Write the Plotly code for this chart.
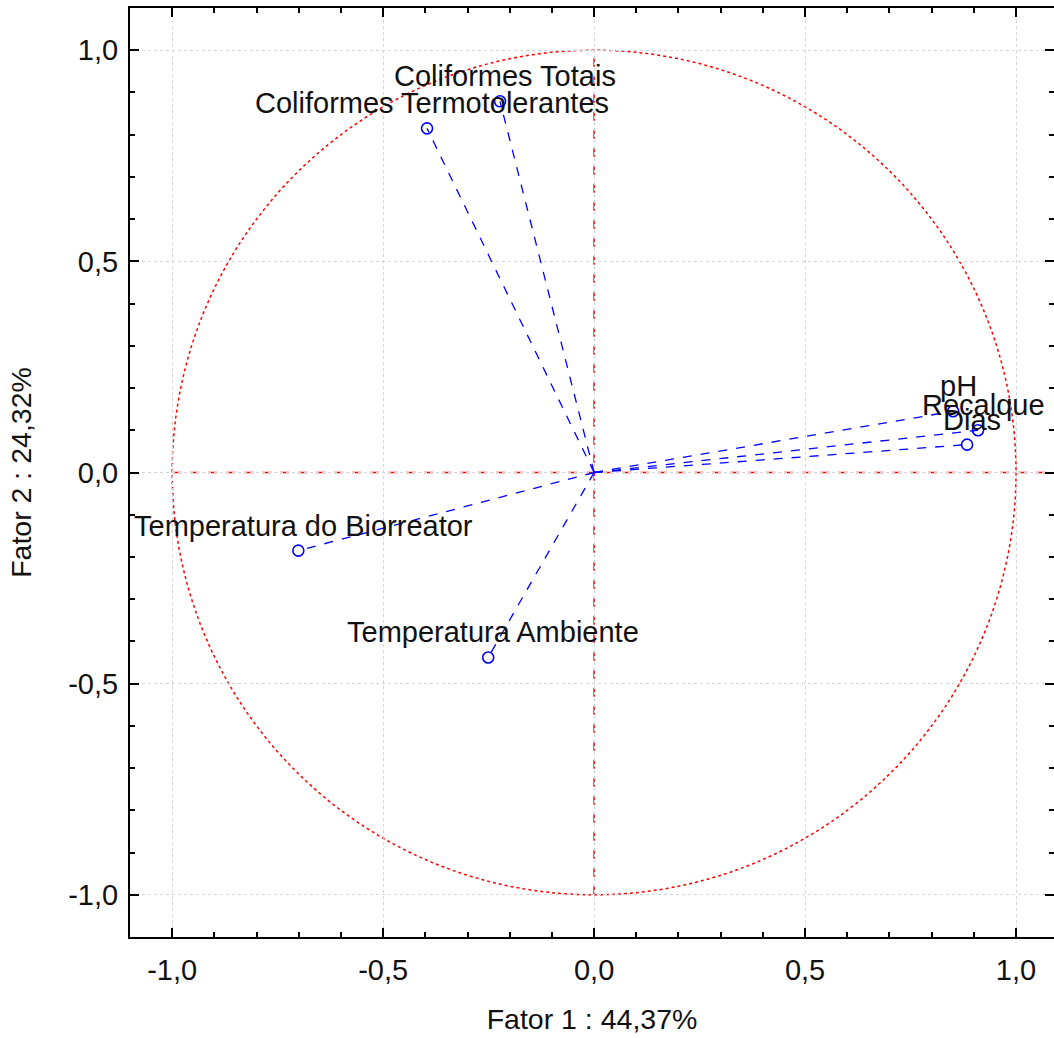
import plotly.graph_objects as go

variables = ["Coliformes Totais", "Coliformes Termotolerantes", "Temperatura do Biorreator",
             "Temperatura Ambiente", "pH", "Recalque", "Dias"]
fator1 = [-0.223, -0.396, -0.701, -0.251, 0.851, 0.910, 0.884]
fator2 = [0.879, 0.815, -0.185, -0.438, 0.145, 0.100, 0.066]
tick_vals = [-1.0, -0.5, 0.0, 0.5, 1.0]
tick_text = ["-1,0", "-0,5", "0,0", "0,5", "1,0"]

FONT = "Liberation Sans, Arial, sans-serif"
BLUE = "#0000ff"
RED = "#ff0000"
TXT = "#111111"

fig = go.Figure()

for name, x, y in zip(variables, fator1, fator2):
    fig.add_trace(go.Scatter(
        x=[0, x], y=[0, y], mode="lines",
        line=dict(color=BLUE, width=1.3, dash="dash"),
        showlegend=False, hoverinfo="skip"))
fig.add_trace(go.Scatter(
    x=fator1, y=fator2, mode="markers",
    marker=dict(symbol="circle-open", size=11, color=BLUE, line=dict(width=1.6, color=BLUE)),
    text=variables, showlegend=False))

for name, x, y in zip(variables, fator1, fator2):
    fig.add_annotation(x=x, y=y, text=name, showarrow=False, yshift=25, xshift=5,
                       font=dict(family=FONT, size=29, color=TXT))

# invisible trace for the mirrored axes
fig.add_trace(go.Scatter(x=fator1, y=fator2, xaxis="x2", yaxis="y2", mode="markers",
                         marker=dict(opacity=0), showlegend=False, hoverinfo="skip"))

# unit circle and zero lines
fig.add_shape(type="circle", x0=-1, y0=-1, x1=1, y1=1, xref="x", yref="y",
              line=dict(color=RED, width=1.5, dash="dot"), layer="below")
fig.add_shape(type="line", x0=-1, y0=0, x1=1.1, y1=0, xref="x", yref="y",
              line=dict(color=RED, width=1.5, dash="dash"), layer="below")
fig.add_shape(type="line", x0=0, y0=-1, x1=0, y1=1, xref="x", yref="y",
              line=dict(color=RED, width=1.5, dash="dash"), layer="below")

xr = [-1.1, 1.09]
yr = [-1.1, 1.1]
common = dict(showgrid=True, gridcolor="#d4d4d4", griddash="dot", gridwidth=1.2,
              zeroline=False, ticks="inside", ticklen=9, tickwidth=2, tickcolor="black",
              tickvals=tick_vals, ticktext=tick_text,
              minor=dict(ticks="inside", dtick=0.1, ticklen=5, tickwidth=1.5,
                         tickcolor="black", showgrid=False),
              tickfont=dict(family=FONT, size=29, color=TXT))

fig.update_layout(
    width=1054, height=1038,
    margin=dict(l=130, r=0, t=8, b=101),
    paper_bgcolor="white", plot_bgcolor="white",
    xaxis=dict(range=xr, showline=True, linecolor="black", linewidth=2,
               title=dict(text="Fator 1 : 44,37%", standoff=24,
                          font=dict(family=FONT, size=28.5, color=TXT)),
               ticklabelstandoff=6, **common),
    yaxis=dict(range=yr, showline=True, linecolor="black", linewidth=2,
               title=dict(text="Fator 2 : 24,32%", standoff=28,
                          font=dict(family=FONT, size=28.5, color=TXT)),
               ticklabelstandoff=4, **common),
    xaxis2=dict(range=xr, overlaying="x", side="top", anchor="y2", showline=True,
                linecolor="black", linewidth=2, showgrid=False, zeroline=False,
                ticks="inside", ticklen=9, tickwidth=2, tickcolor="black",
                tickvals=tick_vals, showticklabels=False,
                minor=dict(ticks="inside", dtick=0.1, ticklen=5, tickwidth=1.5, tickcolor="black")),
    yaxis2=dict(range=yr, overlaying="y", side="right", anchor="x2", showline=False,
                showgrid=False, zeroline=False,
                ticks="inside", ticklen=9, tickwidth=2, tickcolor="black",
                tickvals=tick_vals, showticklabels=False,
                minor=dict(ticks="inside", dtick=0.1, ticklen=5, tickwidth=1.5, tickcolor="black")),
    showlegend=False,
)

fig.write_html("out.html", config={"displayModeBar": False},
               post_script="document.body.style.margin='0';document.body.style.overflow='hidden';")
